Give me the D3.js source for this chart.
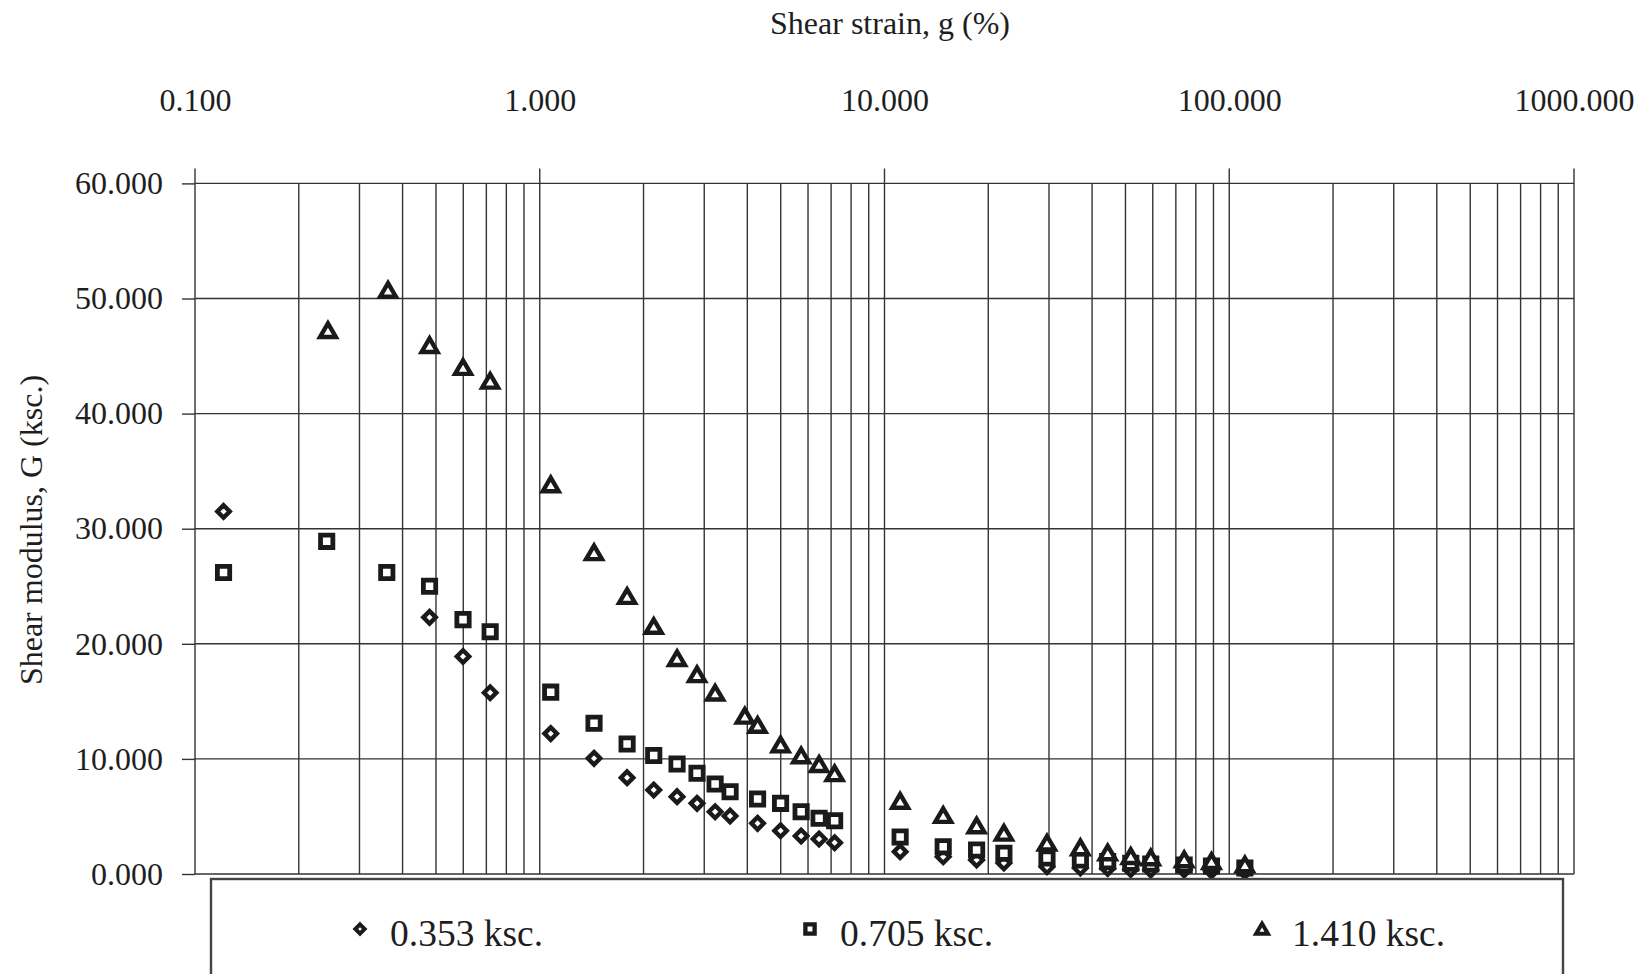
<!DOCTYPE html>
<html>
<head>
<meta charset="utf-8">
<script src="https://cdn.jsdelivr.net/npm/d3@7"></script>
<style>
  body { margin: 0; background: #fff; }
  text { font-family: 'Liberation Serif', 'Times New Roman', serif; fill: #1e1e1e; }
</style>
</head>
<body>
<svg id="chart" width="1645" height="974"></svg>
<script>
// shear strain (%) and shear modulus (ksc.) per confining pressure
const strain353 = [0.121, 0.479, 0.599, 0.718, 1.076, 1.437, 1.792, 2.141, 2.502, 2.859, 3.226, 3.565,
  4.284, 4.995, 5.73, 6.46, 7.167, 11.1, 14.8, 18.5, 22.2, 29.6, 37.0, 44.4, 51.8, 59.2, 74.0, 88.8, 111];
const g353 = [31.5, 22.3, 18.9, 15.75, 12.2, 10.05, 8.37, 7.3, 6.72, 6.14, 5.41, 5.04,
  4.4, 3.76, 3.3, 3.04, 2.72, 1.94, 1.5, 1.22, 0.96, 0.63, 0.52, 0.48, 0.39, 0.35, 0.35, 0.26, 0.22];

const strain705 = [0.121, 0.241, 0.36, 0.479, 0.599, 0.718, 1.076, 1.437, 1.792, 2.141, 2.502, 2.859,
  3.226, 3.565, 4.284, 4.995, 5.73, 6.46, 7.167, 11.1, 14.8, 18.5, 22.2, 29.6, 37.0, 44.4, 51.8, 59.2,
  74.0, 88.8, 111];
const g705 = [26.2, 28.9, 26.2, 25.0, 22.1, 21.05, 15.8, 13.1, 11.3, 10.3, 9.56, 8.75,
  7.82, 7.15, 6.52, 6.14, 5.41, 4.84, 4.63, 3.21, 2.37, 2.09, 1.8, 1.39, 1.22, 1.07, 0.93, 0.87,
  0.78, 0.7, 0.52];

const strain1410 = [0.243, 0.363, 0.479, 0.599, 0.718, 1.076, 1.437, 1.792, 2.141, 2.502, 2.859, 3.226,
  3.933, 4.284, 4.995, 5.73, 6.46, 7.167, 11.1, 14.8, 18.5, 22.2, 29.6, 37.0, 44.4, 51.8, 59.2,
  74.0, 88.8, 111];
const g1410 = [47.2, 50.7, 45.9, 44.0, 42.8, 33.8, 27.9, 24.1, 21.5, 18.7, 17.3, 15.7,
  13.7, 12.9, 11.2, 10.25, 9.5, 8.7, 6.3, 5.07, 4.17, 3.53, 2.67, 2.26, 1.82, 1.5, 1.39,
  1.22, 1.07, 0.78];

const seriesNames = ['0.353 ksc.', '0.705 ksc.', '1.410 ksc.'];
const xTickValues = [0.1, 1, 10, 100, 1000];
const yTickValues = [0, 10, 20, 30, 40, 50, 60];

const svg = d3.select('#chart');
const ink = '#1a1a1a';
const gridInk = '#333';
const serif = "'Liberation Serif', 'Times New Roman', serif";

const x = d3.scaleLog().domain([0.1, 1000]).range([195, 1574]);
const y = d3.scaleLinear().domain([0, 60]).range([874, 183.4]);

svg.append('rect').attr('width', 1645).attr('height', 974).attr('fill', '#fff');

// vertical grid: every 1..9 per decade, decades poke above the frame
const grid = svg.append('g').attr('stroke', gridInk).attr('stroke-width', 1.4);
grid.selectAll('line.v')
  .data(x.ticks())
  .enter()
  .append('line')
  .attr('class', 'v')
  .attr('x1', d => x(d))
  .attr('x2', d => x(d))
  .attr('y1', d => (xTickValues.includes(+d.toPrecision(3)) ? y(60) - 15 : y(60)))
  .attr('y2', y(0));

grid.selectAll('line.h')
  .data(yTickValues)
  .enter()
  .append('line')
  .attr('class', 'h')
  .attr('x1', x(0.1))
  .attr('x2', x(1000))
  .attr('y1', d => y(d))
  .attr('y2', d => y(d));

// left axis: ticks are the gridline stubs
const yAxis = svg.append('g')
  .attr('transform', `translate(${x(0.1)},0)`)
  .call(d3.axisLeft(y).tickValues(yTickValues).tickFormat(d3.format('.3f')).tickSize(13).tickPadding(19));
yAxis.select('.domain').remove();
yAxis.selectAll('line').attr('stroke', gridInk).attr('stroke-width', 1.4);
yAxis.selectAll('text').attr('font-size', 32).attr('fill', ink).style('font-family', serif);

// top labels
const xAxis = svg.append('g')
  .attr('transform', 'translate(0,111)')
  .call(d3.axisTop(x).tickValues(xTickValues).tickFormat(d3.format('.3f')).tickSize(0).tickPadding(0));
xAxis.select('.domain').remove();
xAxis.selectAll('text').attr('font-size', 32).attr('fill', ink).style('font-family', serif);

svg.append('text')
  .attr('x', 890)
  .attr('y', 34)
  .attr('text-anchor', 'middle')
  .attr('font-size', 32)
  .text('Shear strain, g (%)');

svg.append('text')
  .attr('transform', 'translate(42,530)rotate(-90)')
  .attr('text-anchor', 'middle')
  .attr('font-size', 32)
  .text('Shear modulus, G (ksc.)');

// marker shapes, centred on their bounding box
const shapes = [
  s => `M0,${-s}L${s},0L0,${s}L${-s},0Z`,
  s => `M${-s * 1.1},${-s * 1.1}H${s * 1.1}V${s * 1.1}H${-s * 1.1}Z`,
  s => `M0,${-s * 1.1}L${s * 1.2},${s * 0.95}H${-s * 1.2}Z`,
];
const markerSize = [6.2, 5.6, 6.6];
const markerStroke = [4.4, 4.8, 4.4];

const series = [
  { xs: strain353, ys: g353 },
  { xs: strain705, ys: g705 },
  { xs: strain1410, ys: g1410 },
];

series.forEach((sr, i) => {
  svg.append('g')
    .selectAll('path')
    .data(sr.xs.map((v, j) => [v, sr.ys[j]]))
    .enter()
    .append('path')
    .attr('transform', d => `translate(${x(d[0])},${y(d[1])})`)
    .attr('d', shapes[i](markerSize[i]))
    .attr('fill', '#fff')
    .attr('stroke', ink)
    .attr('stroke-width', markerStroke[i])
    .attr('stroke-linejoin', 'miter');
});

// legend
const legend = svg.append('g');
legend.append('rect')
  .attr('x', 211)
  .attr('y', 879)
  .attr('width', 1352)
  .attr('height', 140)
  .attr('fill', '#fff')
  .attr('stroke', '#444')
  .attr('stroke-width', 2.4);

const legendX = [360, 810, 1262];
seriesNames.forEach((name, i) => {
  legend.append('path')
    .attr('transform', `translate(${legendX[i]},929)`)
    .attr('d', shapes[i](markerSize[i] * 0.75))
    .attr('fill', '#fff')
    .attr('stroke', ink)
    .attr('stroke-width', markerStroke[i] * 0.9);
  legend.append('text')
    .attr('x', legendX[i] + 30)
    .attr('y', 946)
    .attr('font-size', 37.5)
    .text(name);
});
</script>
</body>
</html>
